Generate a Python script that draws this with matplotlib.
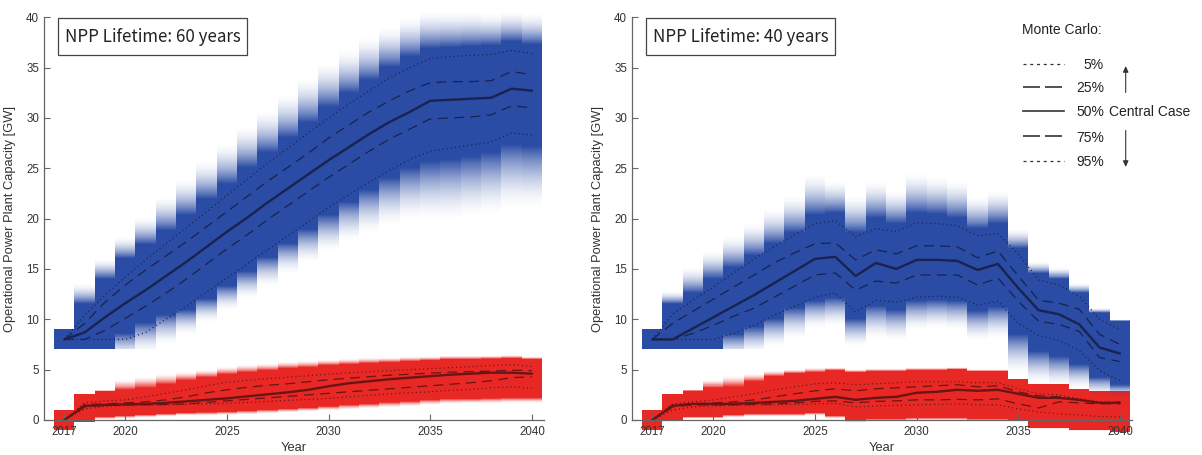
import numpy as np
import matplotlib
matplotlib.use("Agg")
import matplotlib.pyplot as plt
from matplotlib.patches import Rectangle, FancyArrowPatch
from matplotlib.lines import Line2D

plt.rcParams['font.family'] = ['Liberation Sans', 'DejaVu Sans']

# ---------------- data ----------------
YEARS = [2017, 2018, 2019, 2020, 2021, 2022, 2023, 2024, 2025, 2026, 2027, 2028,
         2029, 2030, 2031, 2032, 2033, 2034, 2035, 2036, 2037, 2038, 2039, 2040]
XTICKS = [2017, 2020, 2025, 2030, 2035, 2040]
YTICKS = [0, 5, 10, 15, 20, 25, 30, 35, 40]
TITLES = ["NPP Lifetime: 60 years", "NPP Lifetime: 40 years"]
YLABEL = "Operational Power Plant Capacity [GW]"
XLABEL = "Year"
LEGEND_TITLE = "Monte Carlo:"
LEGEND_PCTS = ["5%", "25%", "50%", "75%", "95%"]
LEGEND_EXTRA = "Central Case"

# --- Left panel (60 years), blue (upper) fan ---
L_b_p05 = [8.0, 8.0, 8.0, 8.0, 8.7, 10.0, 11.3, 12.7, 14.1, 15.5, 16.9, 18.3, 19.7, 21.1, 22.4, 23.6, 24.8, 25.9, 26.7, 27.0, 27.3, 27.6, 28.5, 28.3]
L_b_p25 = [8.0, 8.0, 8.9, 10.1, 11.3, 12.6, 14.0, 15.5, 17.0, 18.4, 19.9, 21.3, 22.7, 24.1, 25.4, 26.7, 27.9, 28.9, 29.9, 30.0, 30.1, 30.3, 31.2, 31.0]
L_b_p50 = [8.0, 8.7, 10.2, 11.6, 12.9, 14.3, 15.7, 17.2, 18.7, 20.1, 21.6, 23.0, 24.4, 25.8, 27.1, 28.4, 29.6, 30.6, 31.7, 31.8, 31.9, 32.0, 32.9, 32.7]
L_b_p75 = [8.0, 9.6, 11.7, 13.4, 14.9, 16.3, 17.7, 19.2, 20.7, 22.2, 23.7, 25.1, 26.5, 28.0, 29.3, 30.6, 31.7, 32.7, 33.5, 33.6, 33.6, 33.7, 34.6, 34.3]
L_b_p95 = [8.0, 10.4, 12.4, 14.2, 15.9, 17.5, 19.1, 20.7, 22.3, 23.9, 25.5, 27.0, 28.5, 30.0, 31.4, 32.7, 34.0, 35.0, 35.9, 36.1, 36.2, 36.3, 36.7, 36.4]
# density shading bounds (GW): fade start, solid start, solid end, fade end, floor
L_b_fade_lo = [7.0, 7.0, 7.0, 6.0, 6.6, 7.4, 8.4, 9.6, 10.8, 12.0, 13.2, 14.4, 15.5, 16.6, 17.6, 18.4, 19.1, 19.6, 19.6, 19.6, 19.9, 20.2, 20.8, 20.8]
L_b_solid_lo = [7.0, 7.0, 7.0, 8.6, 9.6, 10.4, 10.9, 12.0, 13.3, 14.7, 16.1, 17.5, 18.9, 20.3, 21.6, 22.8, 24.0, 25.0, 25.6, 25.8, 26.1, 26.5, 27.3, 27.1]
L_b_solid_hi = [9.0, 11.5, 14.0, 16.0, 17.4, 18.8, 20.3, 21.9, 23.4, 25.0, 26.5, 28.0, 29.5, 31.0, 32.4, 33.7, 35.0, 36.0, 36.8, 36.9, 37.0, 37.1, 37.5, 37.2]
L_b_fade_hi = [9.0, 13.6, 16.0, 18.2, 20.2, 22.2, 24.0, 25.8, 27.5, 29.2, 30.8, 32.4, 34.0, 35.5, 36.8, 38.0, 39.0, 40.0, 40.6, 40.6, 40.6, 40.4, 40.6, 40.4]
L_b_floor = [7.0, 7.0, 7.0, 7.0, 7.0, 7.0, 7.0, 7.0, 7.0, 7.0, 7.0, 7.0, 7.0, 7.0, 7.0, 7.0, 7.0, 7.0, 7.0, 7.0, 7.0, 7.0, 7.0, 7.0]

# --- Left panel, red (lower) fan ---
L_r_p05 = [0.0, 1.1, 1.35, 1.45, 1.5, 1.5, 1.55, 1.6, 1.65, 1.75, 1.85, 1.95, 2.05, 2.15, 2.3, 2.45, 2.6, 2.7, 2.8, 2.95, 3.05, 3.2, 3.3, 3.15]
L_r_p25 = [0.0, 1.3, 1.45, 1.5, 1.5, 1.55, 1.6, 1.75, 1.9, 2.05, 2.2, 2.35, 2.5, 2.65, 2.8, 2.95, 3.1, 3.25, 3.4, 3.55, 3.7, 3.9, 4.2, 4.3]
L_r_p50 = [0.0, 1.4, 1.5, 1.55, 1.6, 1.7, 1.85, 2.0, 2.15, 2.35, 2.55, 2.75, 3.0, 3.35, 3.65, 3.85, 4.05, 4.2, 4.35, 4.5, 4.6, 4.7, 4.7, 4.6]
L_r_p75 = [0.0, 1.55, 1.6, 1.7, 1.8, 2.0, 2.3, 2.7, 3.0, 3.25, 3.45, 3.6, 3.8, 4.0, 4.15, 4.3, 4.45, 4.55, 4.65, 4.75, 4.8, 4.85, 4.95, 4.9]
L_r_p95 = [0.0, 1.7, 1.9, 2.0, 2.3, 2.65, 3.0, 3.4, 3.75, 3.95, 4.1, 4.25, 4.4, 4.55, 4.7, 4.8, 4.9, 5.0, 5.1, 5.2, 5.3, 5.4, 5.5, 5.3]
L_r_fade_lo = [-1.0, -0.2, 0.0, 0.1, 0.2, 0.3, 0.4, 0.4, 0.45, 0.5, 0.6, 0.7, 0.8, 0.9, 1.0, 1.1, 1.2, 1.3, 1.45, 1.55, 1.6, 1.6, 1.65, 1.65]
L_r_solid_lo = [-1.0, -0.2, 0.3, 0.4, 0.5, 0.6, 0.7, 0.75, 0.8, 0.9, 1.0, 1.1, 1.2, 1.35, 1.5, 1.6, 1.75, 1.85, 2.0, 2.1, 2.1, 2.15, 2.2, 2.2]
L_r_solid_hi = [1.0, 2.6, 2.85, 3.0, 3.2, 3.5, 3.9, 4.2, 4.5, 4.7, 4.9, 5.1, 5.2, 5.4, 5.5, 5.6, 5.7, 5.8, 5.9, 6.0, 6.0, 6.05, 6.1, 6.0]
L_r_fade_hi = [1.0, 2.6, 3.0, 4.0, 4.3, 4.6, 4.8, 5.0, 5.3, 5.5, 5.6, 5.8, 5.9, 6.0, 6.1, 6.2, 6.2, 6.3, 6.3, 6.4, 6.4, 6.4, 6.45, 6.3]
L_r_floor = [-1.0, -1.0, -1.0, -1.0, -1.0, -1.0, -1.0, -1.0, -1.0, -1.0, -1.0, -1.0, -1.0, -1.0, -1.0, -1.0, -1.0, -1.0, -1.0, -1.0, -1.0, -1.0, -1.0, -1.0]

# --- Right panel (40 years), blue fan ---
R_b_p05 = [8.0, 8.0, 8.0, 8.0, 8.6, 9.4, 10.4, 11.3, 12.2, 12.6, 10.7, 11.9, 11.7, 12.2, 12.3, 12.2, 11.4, 11.8, 9.6, 8.4, 7.9, 6.9, 4.9, 3.9]
R_b_p25 = [8.0, 8.0, 8.6, 9.4, 10.3, 11.1, 12.2, 13.3, 14.4, 14.6, 12.9, 13.8, 13.6, 14.4, 14.4, 14.4, 13.4, 14.1, 11.8, 9.8, 9.5, 8.8, 6.2, 5.8]
R_b_p50 = [8.0, 8.0, 9.1, 10.2, 11.3, 12.4, 13.6, 14.8, 16.0, 16.2, 14.3, 15.6, 15.0, 15.9, 15.9, 15.8, 14.9, 15.5, 13.1, 10.9, 10.5, 9.5, 7.2, 6.6]
R_b_p75 = [8.0, 9.6, 10.8, 12.0, 13.2, 14.4, 15.6, 16.6, 17.5, 17.6, 15.9, 16.9, 16.5, 17.3, 17.3, 17.2, 16.1, 16.8, 14.3, 11.9, 11.6, 11.0, 8.5, 7.5]
R_b_p95 = [8.0, 10.5, 11.9, 13.2, 14.6, 16.0, 17.2, 18.4, 19.5, 19.8, 18.2, 19.0, 18.7, 19.6, 19.5, 19.3, 18.3, 18.5, 16.5, 13.9, 13.4, 12.3, 10.0, 9.0]
R_b_fade_lo = [7.0, 7.0, 7.0, 7.0, 6.0, 6.5, 7.2, 8.0, 9.0, 9.2, 7.2, 8.0, 7.8, 8.8, 9.0, 8.8, 7.8, 8.0, 4.5, 3.5, 3.2, 3.0, 2.4, 2.2]
R_b_solid_lo = [7.0, 7.0, 7.0, 7.0, 8.5, 9.2, 10.0, 11.1, 11.8, 12.1, 10.0, 11.3, 10.9, 11.8, 11.9, 11.8, 10.8, 11.2, 8.5, 6.8, 6.3, 5.5, 4.2, 3.5]
R_b_solid_hi = [9.0, 11.5, 12.6, 14.0, 15.1, 16.3, 17.5, 18.6, 20.3, 20.5, 18.6, 20.0, 19.5, 20.5, 20.4, 20.0, 19.0, 19.5, 17.0, 14.5, 14.0, 12.6, 10.6, 9.8]
R_b_fade_hi = [9.0, 12.8, 15.2, 16.8, 18.3, 19.6, 21.0, 22.3, 24.5, 23.8, 22.3, 23.8, 22.8, 24.6, 24.2, 23.8, 22.2, 22.8, 19.0, 15.7, 15.1, 13.6, 11.1, 9.9]
R_b_floor = [7.0, 7.0, 7.0, 7.0, 7.0, 7.0, 7.0, 7.0, 7.0, 7.0, 7.0, 7.0, 7.0, 7.0, 7.0, 7.0, 7.0, 7.0, 0.0, 0.0, 0.0, 0.0, 0.0, 0.0]

# --- Right panel, red fan ---
R_r_p05 = [0.0, 1.0, 1.3, 1.4, 1.45, 1.5, 1.5, 1.55, 1.6, 1.65, 1.3, 1.4, 1.45, 1.5, 1.55, 1.6, 1.5, 1.5, 1.1, 0.8, 0.6, 0.5, 0.35, 0.3]
R_r_p25 = [0.0, 1.3, 1.5, 1.5, 1.5, 1.55, 1.6, 1.7, 1.85, 1.9, 1.7, 1.85, 1.9, 2.0, 2.0, 2.05, 2.0, 2.1, 1.6, 1.2, 1.8, 1.7, 1.6, 1.6]
R_r_p50 = [0.0, 1.4, 1.6, 1.6, 1.6, 1.7, 1.8, 1.9, 2.1, 2.3, 2.0, 2.2, 2.3, 2.7, 2.8, 3.0, 2.9, 3.0, 2.6, 2.2, 2.2, 2.0, 1.7, 1.7]
R_r_p75 = [0.0, 1.5, 1.6, 1.7, 1.8, 2.0, 2.3, 2.6, 2.9, 3.1, 2.9, 3.1, 3.2, 3.3, 3.4, 3.5, 3.3, 3.4, 2.8, 2.4, 2.3, 2.0, 1.7, 1.8]
R_r_p95 = [0.0, 1.6, 1.8, 2.0, 2.3, 2.6, 3.0, 3.3, 3.6, 3.7, 3.5, 3.6, 3.7, 3.8, 3.8, 3.8, 3.7, 3.7, 3.1, 2.6, 2.5, 2.1, 1.8, 1.8]
R_r_fade_lo = [-1.0, -0.1, 0.1, 0.1, 0.2, 0.3, 0.3, 0.3, 0.4, 0.1, -0.3, -0.2, -0.2, -0.1, -0.1, -0.1, -0.2, -0.2, -0.2, -0.9, -0.9, -1.1, -1.1, -1.3]
R_r_solid_lo = [-1.0, -0.1, 0.3, 0.3, 0.5, 0.6, 0.6, 0.6, 0.7, 0.4, 0.0, 0.1, 0.1, 0.2, 0.2, 0.2, 0.1, 0.1, 0.0, -0.8, -0.8, -1.0, -1.0, -1.2]
R_r_solid_hi = [1.0, 2.6, 2.9, 3.2, 3.3, 3.8, 4.3, 4.6, 4.7, 4.9, 4.7, 4.8, 4.8, 4.9, 4.9, 5.0, 4.8, 4.8, 4.0, 3.5, 3.5, 3.1, 2.9, 2.9]
R_r_fade_hi = [1.0, 2.6, 3.0, 4.0, 4.4, 4.6, 4.9, 5.0, 5.2, 5.2, 5.0, 5.1, 5.1, 5.2, 5.2, 5.2, 5.0, 5.0, 4.0, 3.5, 3.5, 3.1, 2.9, 2.9]
R_r_floor = [-1.0, -1.5, -1.5, -1.5, -1.5, -1.5, -1.5, -1.5, -1.5, -1.5, -1.5, -1.5, -1.5, -1.5, -1.5, -1.5, -1.5, -1.5, -1.5, -1.5, -1.5, -1.5, -1.5, -1.5]

# ---------------- style ----------------
W, H = 1202, 455
BLUE = np.array([42, 76, 164]) / 255.0
RED = np.array([232, 40, 36]) / 255.0
BLUE_LINE = '#1a224f'
RED_LINE = '#6a1515'
AX_COL = '#666666'
TXT_COL = '#333333'

fig = plt.figure(figsize=(W / 100, H / 100), dpi=100)
fig.patch.set_facecolor('white')

AX_W = 500.1 / W
AX_H = 402.8 / H
AX_B = 35.0 / H
ax_left = fig.add_axes([44.0 / W, AX_B, AX_W, AX_H])
ax_right = fig.add_axes([632.0 / W, AX_B, AX_W, AX_H])


def density(ax, fade_lo, solid_lo, solid_hi, fade_hi, floor, rgb, z):
    y0, y1, dy = -2.0, 41.5, 0.05
    n = int(round((y1 - y0) / dy))
    yc = y0 + dy * (np.arange(n) + 0.5)
    rgba = np.zeros((n, len(YEARS), 4))
    rgba[..., :3] = rgb
    for j in range(len(YEARS)):
        fl, sl, sh, fh, fo = fade_lo[j], solid_lo[j], solid_hi[j], fade_hi[j], floor[j]
        a = np.zeros(n)
        a[(yc >= sl) & (yc <= sh)] = 1.0
        if sl > fl:
            m = (yc >= fl) & (yc < sl)
            a[m] = ((yc[m] - fl) / (sl - fl)) ** 1.8
        if fh > sh:
            m = (yc > sh) & (yc <= fh)
            a[m] = ((fh - yc[m]) / (fh - sh)) ** 1.8
        a[yc < fo] = 0.0
        rgba[:, j, 3] = a
    im = ax.imshow(rgba, extent=(YEARS[0] - 0.5, YEARS[-1] + 0.5, y0, y1),
                   origin='lower', aspect='auto', interpolation='nearest', zorder=z)
    im.set_clip_on(False)


def fan_lines(ax, p05, p25, p50, p75, p95, color):
    for p in (p05, p95):
        ax.plot(YEARS, p, color=color, lw=0.9, dashes=(0.9, 2.4), zorder=3, clip_on=False)
    for p in (p25, p75):
        ax.plot(YEARS, p, color=color, lw=0.9, dashes=(8, 5), zorder=3, clip_on=False)
    ax.plot(YEARS, p50, color=color, lw=1.7, zorder=4, clip_on=False,
            solid_joinstyle='round', solid_capstyle='round')


def setup(ax):
    ax.set_xlim(2016, 2040.6)
    ax.set_ylim(0, 40)
    for s in ('top', 'right'):
        ax.spines[s].set_visible(False)
    for s in ('left', 'bottom'):
        ax.spines[s].set_color(AX_COL)
        ax.spines[s].set_linewidth(0.9)
        ax.spines[s].set_zorder(6)
    ax.set_xticks(XTICKS)
    ax.set_yticks(YTICKS)
    ax.tick_params(direction='in', length=4, width=0.8, color=AX_COL,
                   labelsize=8.3, labelcolor=TXT_COL)
    ax.tick_params(axis='x', pad=4.5)
    ax.tick_params(axis='y', pad=3.5)
    ax.set_ylabel(YLABEL, fontsize=9.3, color=TXT_COL)
    ax.yaxis.set_label_coords(-0.056, 0.5)
    ax.set_xlabel(XLABEL, fontsize=9.3, color=TXT_COL, va='center')
    ax.xaxis.set_label_coords(0.5, -0.07)


# left panel
density(ax_left, L_r_fade_lo, L_r_solid_lo, L_r_solid_hi, L_r_fade_hi, L_r_floor, RED, 0.5)
density(ax_left, L_b_fade_lo, L_b_solid_lo, L_b_solid_hi, L_b_fade_hi, L_b_floor, BLUE, 0.6)
fan_lines(ax_left, L_b_p05, L_b_p25, L_b_p50, L_b_p75, L_b_p95, BLUE_LINE)
fan_lines(ax_left, L_r_p05, L_r_p25, L_r_p50, L_r_p75, L_r_p95, RED_LINE)
setup(ax_left)

# right panel
density(ax_right, R_r_fade_lo, R_r_solid_lo, R_r_solid_hi, R_r_fade_hi, R_r_floor, RED, 0.5)
density(ax_right, R_b_fade_lo, R_b_solid_lo, R_b_solid_hi, R_b_fade_hi, R_b_floor, BLUE, 0.6)
fan_lines(ax_right, R_b_p05, R_b_p25, R_b_p50, R_b_p75, R_b_p95, BLUE_LINE)
fan_lines(ax_right, R_r_p05, R_r_p25, R_r_p50, R_r_p75, R_r_p95, RED_LINE)
setup(ax_right)


def fx(x):
    return x / W


def fy(y):
    return 1.0 - y / H


# title boxes
for (x0, x1), title in zip([(58, 247), (646, 835)], TITLES):
    y0, y1 = 18, 55
    rect = Rectangle((fx(x0), fy(y1)), (x1 - x0) / W, (y1 - y0) / H,
                     transform=fig.transFigure, fc='white', ec='#444444', lw=0.9, zorder=10)
    fig.add_artist(rect)
    fig.text(fx((x0 + x1) / 2), fy((y0 + y1) / 2 + 0.5), title, ha='center', va='center',
             fontsize=12.2, color='#222222', zorder=11,
             family=['Noto Sans CJK JP', 'DejaVu Sans'])

# legend
LEG_FS = 10.0
fig.text(fx(1022.5), fy(30), LEGEND_TITLE, ha='left', va='center', fontsize=LEG_FS, color='#222222')
row_y = [63.5, 87.0, 110.5, 136.0, 160.5]
styles = [dict(lw=0.9, dashes=(2.4, 3.0)),
          dict(lw=1.2, dashes=(10.2, 3.0)),
          dict(lw=1.2),
          dict(lw=1.2, dashes=(10.2, 3.0)),
          dict(lw=0.9, dashes=(2.4, 3.0))]
for y, lab, st in zip(row_y, LEGEND_PCTS, styles):
    ln = Line2D([fx(1023), fx(1064)], [fy(y), fy(y)], transform=fig.transFigure,
                color='#333333', **st)
    fig.add_artist(ln)
    fig.text(fx(1104), fy(y + 1.5), lab, ha='right', va='center', fontsize=LEG_FS, color='#222222')
fig.text(fx(1109), fy(row_y[2] + 1.5), LEGEND_EXTRA, ha='left', va='center',
         fontsize=LEG_FS, color='#222222')

for (ya, yb) in [(92.5, 66.0), (130.5, 167.0)]:
    arr = FancyArrowPatch((fx(1125.7), fy(ya)), (fx(1125.7), fy(yb)),
                          transform=fig.transFigure, arrowstyle='-|>,head_length=3.5,head_width=1.6',
                          lw=0.8, color='#333333', shrinkA=0, shrinkB=0)
    fig.add_artist(arr)

fig.savefig('out.png', dpi=100, facecolor='white')
